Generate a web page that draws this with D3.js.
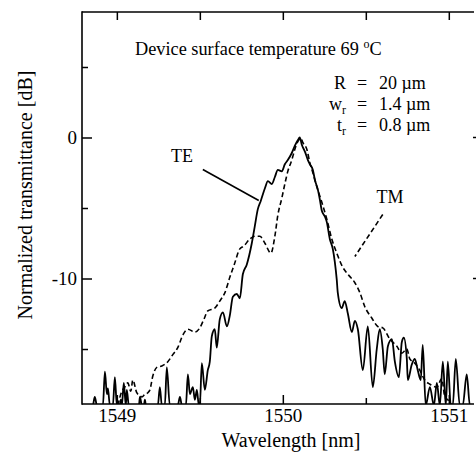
<!DOCTYPE html>
<html>
<head>
<meta charset="utf-8">
<script src="https://cdn.jsdelivr.net/npm/d3@7"></script>
<style>
html,body{margin:0;padding:0;background:#fff;overflow:hidden;}
svg{display:block;}
svg text{font-family:"Liberation Serif","Times New Roman",serif;fill:#000;}
</style>
</head>
<body>
<svg id="chart" width="476" height="452"></svg>
<script>
// ---- data (wavelength nm, normalized transmittance dB) ----
const teWavelength = [1548.801,1548.855,1548.867,1548.880,1548.916,1548.928,1548.940,1548.946,1548.958,1548.976,1548.988,1549.000,1549.018,1549.024,1549.030,1549.042,1549.054,1549.060,1549.072,1549.133,1549.139,1549.151,1549.163,1549.169,1549.175,1549.247,1549.259,1549.271,1549.289,1549.301,1549.319,1549.367,1549.380,1549.392,1549.416,1549.428,1549.440,1549.458,1549.470,1549.482,1549.494,1549.500,1549.512,1549.530,1549.548,1549.560,1549.572,1549.590,1549.602,1549.620,1549.639,1549.663,1549.681,1549.699,1549.723,1549.741,1549.759,1549.783,1549.813,1549.831,1549.849,1549.867,1549.892,1549.910,1549.934,1549.952,1549.970,1549.994,1550.012,1550.030,1550.054,1550.072,1550.090,1550.102,1550.114,1550.133,1550.151,1550.163,1550.181,1550.193,1550.211,1550.223,1550.235,1550.253,1550.265,1550.283,1550.301,1550.313,1550.325,1550.331,1550.355,1550.373,1550.392,1550.416,1550.434,1550.452,1550.482,1550.512,1550.542,1550.566,1550.584,1550.602,1550.614,1550.633,1550.657,1550.675,1550.699,1550.717,1550.729,1550.747,1550.753,1550.777,1550.795,1550.813,1550.831,1550.843,1550.861,1550.886,1550.910,1550.928,1550.946,1550.964,1550.982,1550.994,1551.012,1551.024,1551.042,1551.066,1551.084,1551.108,1551.127,1551.163];
const teValues = [-19,-19,-18.4,-19,-19,-16.6,-18.2,-17.8,-19,-19,-17.0,-19,-19,-18.6,-19,-17.4,-19,-17.9,-19,-19,-18.4,-19,-19,-18.6,-19,-19,-17.7,-19,-19,-16.3,-19,-19,-18.4,-19,-19,-16.8,-18.2,-17.7,-18.6,-17.9,-19,-19,-16.0,-17.9,-16.5,-15.9,-14.1,-13.6,-14.9,-12.9,-12.4,-13.4,-12.6,-11.3,-11.1,-11.4,-9.7,-9.0,-7.5,-6.3,-5.1,-4.5,-3.6,-3.1,-3.3,-2.8,-2.3,-2.4,-1.9,-1.6,-1.1,-0.6,-0.2,0,-0.5,-1.0,-1.6,-1.9,-2.3,-3.0,-3.7,-4.4,-5.2,-5.6,-6.0,-7.2,-7.9,-8.8,-10.1,-11.0,-12.1,-11.6,-12.5,-13.8,-13.0,-13.6,-16.5,-13.4,-17.7,-15.0,-13.6,-15.0,-16.8,-14.8,-14.3,-15.9,-17.0,-14.5,-14.2,-15.7,-17.2,-16.1,-15.7,-16.5,-17.2,-14.7,-19,-17.7,-19,-17.4,-19,-15.9,-19,-15.9,-19,-19,-15.7,-19,-19,-16.8,-19,-19];

const tmWavelength = [1549.006,1549.030,1549.048,1549.066,1549.084,1549.096,1549.120,1549.139,1549.151,1549.169,1549.187,1549.199,1549.217,1549.241,1549.271,1549.307,1549.337,1549.367,1549.398,1549.428,1549.470,1549.500,1549.524,1549.548,1549.590,1549.620,1549.651,1549.681,1549.705,1549.741,1549.765,1549.801,1549.831,1549.861,1549.892,1549.928,1549.952,1549.970,1549.994,1550.012,1550.030,1550.054,1550.072,1550.090,1550.108,1550.120,1550.145,1550.163,1550.181,1550.205,1550.235,1550.265,1550.295,1550.325,1550.361,1550.392,1550.434,1550.464,1550.494,1550.536,1550.572,1550.602,1550.645,1550.687,1550.717,1550.747,1550.765,1550.795,1550.825,1550.855,1550.886,1550.928,1550.958,1550.976,1550.994,1551.018];
const tmValues = [-19,-18.0,-17.7,-17.4,-18.0,-17.2,-18.1,-18.3,-18.4,-18.2,-18.1,-17.9,-16.9,-16.3,-16.2,-15.9,-15.4,-14.9,-14.0,-13.6,-13.8,-13.5,-12.9,-12.3,-12.1,-11.6,-11.0,-9.9,-9.1,-7.9,-7.7,-7.2,-7.0,-7.0,-7.5,-8.2,-7.0,-5.5,-4.3,-3.3,-2.4,-1.6,-0.85,-0.3,-0.05,-0.35,-0.85,-1.8,-2.5,-3.5,-4.6,-5.8,-7.2,-8.2,-9.2,-9.7,-10.3,-11.0,-12.0,-12.8,-13.4,-13.5,-14.3,-14.8,-15.3,-15.0,-15.7,-16.0,-16.5,-17.2,-17.5,-17.7,-17.1,-18.4,-18.6,-19];

const xMajorTicks = [1549, 1550, 1551];
const xMinorTicks = [1549.5, 1550.5];
const yMajorTicks = [0, -10];
const yMinorTicks = [5, -5, -15];

const titleText = "Device surface temperature 69 ";
const paramLabels = ["R", "w", "t"];
const paramSubs = ["", "r", "r"];
const paramValues = ["20 \u00b5m", "1.4 \u00b5m", "0.8 \u00b5m"];
const xLabel = "Wavelength [nm]";
const yLabel = "Normalized transmittance [dB]";

// leader lines (data coords) [x1,y1,x2,y2]
const teLeader = [1549.518, -2.27, 1549.855, -4.47];
const tmLeader = [1550.602, -5.46, 1550.434, -8.44];

// ---- layout ----
const W = 476;
const L = 82, T = 12, B = 404, R = 482;
const svg = d3.select("#chart");
const x = d3.scaleLinear().domain([1548.79, 1551.2]).range([L, R]);
const y = d3.scaleLinear().domain([-18.9, 8.9]).range([B, T]);

svg.append("defs").append("clipPath").attr("id","clip")
  .append("rect").attr("x",L).attr("y",T).attr("width",W-L).attr("height",B-T);

const fmt = d => d < 0 ? "-" + Math.abs(d) : String(d);

function styleAxis(g){
  g.selectAll(".domain").remove();
  g.selectAll("line").attr("stroke","#000").attr("stroke-width",1.5);
  g.selectAll("text").style("font-family",'"Liberation Serif",serif').style("font-size","19px").attr("fill","#000");
}
svg.append("g").attr("transform",`translate(0,${B})`)
  .call(d3.axisBottom(x).tickValues(xMajorTicks).tickFormat(d3.format("d")).tickSize(-9).tickPadding(5)).call(styleAxis);
svg.append("g").attr("transform",`translate(0,${B})`)
  .call(d3.axisBottom(x).tickValues(xMinorTicks).tickFormat("").tickSize(-6)).call(styleAxis);
svg.append("g").attr("transform",`translate(0,${T})`)
  .call(d3.axisTop(x).tickValues(xMajorTicks.concat(xMinorTicks)).tickFormat("").tickSize(-8)).call(styleAxis);
svg.append("g").attr("transform",`translate(${L},0)`)
  .call(d3.axisLeft(y).tickValues(yMajorTicks).tickFormat(fmt).tickSize(-10).tickPadding(5)).call(styleAxis);
svg.append("g").attr("transform",`translate(${L},0)`)
  .call(d3.axisLeft(y).tickValues(yMinorTicks).tickFormat("").tickSize(-6)).call(styleAxis);

// short inward ticks of the right frame (which lies just beyond the window)
svg.append("g").selectAll("line").data(yMajorTicks).join("line")
  .attr("x1", W - 3).attr("x2", W).attr("y1", d => y(d)).attr("y2", d => y(d))
  .attr("stroke","#000").attr("stroke-width",1.5);

// frame: three separate edges (left, top, bottom)
const frame = svg.append("g").attr("stroke","#000").attr("stroke-width",1.6);
frame.append("line").attr("x1",L).attr("y1",T-0.8).attr("x2",L).attr("y2",B+0.8);
frame.append("line").attr("x1",L).attr("y1",T).attr("x2",W-2).attr("y2",T);
frame.append("line").attr("x1",L).attr("y1",B).attr("x2",W-2).attr("y2",B);

// curves
const line = d3.line().x(d=>x(d[0])).y(d=>y(d[1])).curve(d3.curveMonotoneX);
const teData = teWavelength.map((w,i)=>[w, teValues[i]]);
const tmData = tmWavelength.map((w,i)=>[w, tmValues[i]]);
const plot = svg.append("g").attr("clip-path","url(#clip)");
plot.append("path").datum(tmData).attr("d",line).attr("fill","none")
  .attr("stroke","#000").attr("stroke-width",1.6).attr("stroke-dasharray","5,3");
plot.append("path").datum(teData).attr("d",line).attr("fill","none")
  .attr("stroke","#000").attr("stroke-width",1.8).attr("stroke-linejoin","round");

// leader lines
svg.append("line").attr("x1",x(teLeader[0])).attr("y1",y(teLeader[1])).attr("x2",x(teLeader[2])).attr("y2",y(teLeader[3]))
  .attr("stroke","#000").attr("stroke-width",1.6);
svg.append("line").attr("x1",x(tmLeader[0])).attr("y1",y(tmLeader[1])).attr("x2",x(tmLeader[2])).attr("y2",y(tmLeader[3]))
  .attr("stroke","#000").attr("stroke-width",1.6).attr("stroke-dasharray","5,3");

// labels
svg.append("text").attr("x",182).attr("y",162).attr("text-anchor","middle").style("font-size","18px").text("TE");
svg.append("text").attr("x",390).attr("y",203).attr("text-anchor","middle").style("font-size","18px").text("TM");

const title = svg.append("text").attr("x",135).attr("y",55).style("font-size","18.3px");
title.append("tspan").text(titleText);
title.append("tspan").attr("dy",-7).style("font-size","12px").text("o");
title.append("tspan").attr("dy",7).text("C");

const baseY = [89, 110, 131];
paramLabels.forEach((lab,i)=>{
  const t = svg.append("text").attr("x",346).attr("y",baseY[i]).attr("text-anchor","end").style("font-size","18px");
  t.append("tspan").text(lab);
  if (paramSubs[i]) t.append("tspan").attr("dy",4).style("font-size","12px").text(paramSubs[i]);
  svg.append("text").attr("x",362).attr("y",baseY[i]).attr("text-anchor","middle").style("font-size","18px").text("=");
  svg.append("text").attr("x",379).attr("y",baseY[i]).style("font-size","18px").text(paramValues[i]);
});

svg.append("text").attr("x",291).attr("y",447).attr("text-anchor","middle").style("font-size","20px").text(xLabel);
svg.append("text").attr("transform","translate(32,195) rotate(-90)").attr("text-anchor","middle").style("font-size","20px").text(yLabel);
</script>
</body>
</html>
